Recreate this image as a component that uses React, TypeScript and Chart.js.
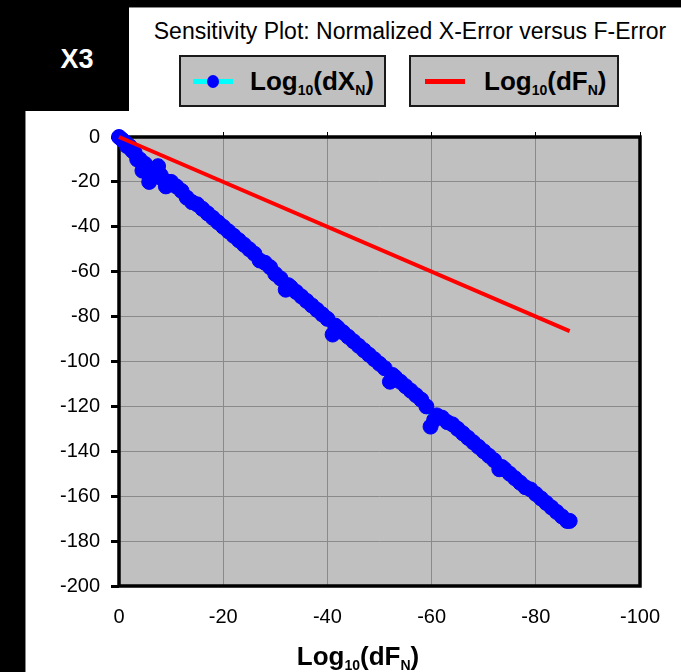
import React, { useEffect, useRef } from "react";
import { Chart, registerables } from "chart.js";

Chart.register(...registerables);

// ---- Data ----
const xTickValues = [0, -20, -40, -60, -80, -100];
const xTickLabels = ["0", "-20", "-40", "-60", "-80", "-100"];
const yTickValues = [0, -20, -40, -60, -80, -100, -120, -140, -160, -180, -200];
const yTickLabels = ["0", "-20", "-40", "-60", "-80", "-100", "-120", "-140", "-160", "-180", "-200"];

// Log10(dF_N) values for the blue series
const logDF = [
  0, -0.5, -1, -1.5, -2, -2.5, -3, -3.5, -4, -4.5, -5, -5.5, -5.8, -6, -6.5, -7, -7.5, -8, -8.5, -9, -9.5, -10,
  -11, -12, -13, -14, -15, -16, -17, -18, -19, -20, -21, -22, -23, -24, -25,
  -26, -27, -28, -29, -30, -31, -32, -32.5, -33, -34, -35, -36, -37, -38, -39,
  -40, -41, -41.5, -42, -43, -44, -45, -46, -47, -48, -49, -50, -51, -52,
  -52.5, -53, -54, -55, -56, -57, -58, -59, -59.8, -60.5, -61, -62, -63, -64,
  -65, -66, -67, -68, -69, -70, -71, -72, -73, -73.5, -74, -75, -76, -77, -78,
  -79, -80, -81, -82, -83, -84, -85, -86, -86.5,
];
// Log10(dX_N) values for the blue series
const logDX = [
  0, -1, -2, -4, -4, -6, -7, -10, -10, -15, -12, -14, -20, -15, -17, -15, -13, -17, -19, -22, -20, -20,
  -22, -24, -27, -29, -30, -32, -34, -36, -38, -40, -42, -44, -46, -48, -50,
  -52, -55, -56, -58, -61, -63, -68, -66, -67, -69, -71, -73, -75, -77, -79,
  -81, -88, -84, -85, -87, -89, -91, -93, -95, -97, -99, -101, -103, -109,
  -106, -107, -109, -111, -113, -115, -117, -120, -129, -126, -124, -125, -127, -128,
  -130, -132, -134, -136, -138, -140, -142, -144, -148, -147, -148, -150, -152, -154, -156,
  -157, -159, -161, -163, -165, -167, -169, -171, -171,
];
// Log10(dF_N) reference line (red)
const refX = [0, -86.5];
const refY = [0, -86.5];

const FONT = '"Liberation Sans", Arial, sans-serif';

const plotBg = {
  id: "plotBg",
  beforeDraw(chart: any) {
    const { ctx, chartArea: a } = chart;
    ctx.save();
    ctx.fillStyle = "#C0C0C0";
    ctx.fillRect(a.left, a.top, a.right - a.left, a.bottom - a.top);
    ctx.restore();
  },
  beforeDatasetsDraw(chart: any) {
    const { ctx, chartArea: a } = chart;
    ctx.save();
    ctx.strokeStyle = "#000";
    ctx.lineWidth = 3.5;
    ctx.strokeRect(a.left, a.top, a.right - a.left, a.bottom - a.top);
    ctx.restore();
  },
};

function ChartCanvas() {
  const ref = useRef<HTMLCanvasElement | null>(null);
  useEffect(() => {
    if (!ref.current) return;
    const blue = logDF.map((x, i) => ({ x, y: logDX[i] }));
    const red = refX.map((x, i) => ({ x, y: refY[i] }));
    const chart = new Chart(ref.current, {
      type: "scatter",
      data: {
        datasets: [
          {
            label: "Log10(dFN)",
            data: red,
            showLine: true,
            borderColor: "#FF0000",
            borderWidth: 4,
            pointRadius: 0,
            clip: false,
            order: 0,
          } as any,
          {
            label: "Log10(dXN)",
            data: blue,
            showLine: true,
            borderColor: "#00FFFF",
            borderWidth: 2,
            pointRadius: 7.5,
            pointBackgroundColor: "#0000FF",
            pointBorderColor: "#0000FF",
            pointBorderWidth: 1,
            clip: false,
            order: 1,
          } as any,
        ],
      },
      options: {
        animation: false,
        responsive: false,
        maintainAspectRatio: false,
        layout: { padding: { top: 137, right: 41, left: 0, bottom: 0 } },
        plugins: { legend: { display: false }, tooltip: { enabled: false }, title: { display: false } },
        scales: {
          x: {
            type: "linear",
            position: "bottom",
            min: -100,
            max: 0,
            reverse: true,
            afterBuildTicks: (s: any) => {
              s.ticks = xTickValues.map((v) => ({ value: v }));
            },
            afterFit: (s: any) => {
              s.height = 86;
            },
            grid: { color: "#8A8A8A", lineWidth: 1, drawTicks: false },
            border: { display: false },
            ticks: {
              padding: 19,
              color: "#000",
              font: { family: FONT, size: 20 },
              maxRotation: 0,
              autoSkip: false,
              callback: (v: any) => {
                const i = xTickValues.indexOf(Number(v));
                return i >= 0 ? xTickLabels[i] : "";
              },
            },
          },
          x2: {
            type: "linear",
            position: "top",
            min: -100,
            max: 0,
            reverse: true,
            afterBuildTicks: (s: any) => {
              s.ticks = xTickValues.map((v) => ({ value: v }));
            },
            afterFit: (s: any) => {
              s.height = 0;
            },
            grid: { drawOnChartArea: false, drawTicks: true, tickLength: 5, tickColor: "#000", tickWidth: 1 },
            border: { display: false },
            ticks: { display: false },
          },
          y: {
            type: "linear",
            min: -200,
            max: 0,
            afterBuildTicks: (s: any) => {
              s.ticks = yTickValues.map((v) => ({ value: v }));
            },
            afterFit: (s: any) => {
              s.width = 119;
            },
            grid: { color: "#8A8A8A", lineWidth: 1, drawTicks: true, tickLength: 8, tickColor: "#000", tickWidth: 3 },
            border: { display: false },
            ticks: {
              padding: 11,
              color: "#000",
              font: { family: FONT, size: 20 },
              autoSkip: false,
              callback: (v: any) => {
                const i = yTickValues.indexOf(Number(v));
                return i >= 0 ? yTickLabels[i] : "";
              },
            },
          },
        },
      } as any,
      plugins: [plotBg],
    });
    return () => chart.destroy();
  }, []);
  return (
    <canvas
      ref={ref}
      width={681}
      height={672}
      style={{ position: "absolute", left: 0, top: 0, width: 681, height: 672 }}
    />
  );
}

export default function App() {
  const legendBox: React.CSSProperties = {
    position: "absolute",
    top: 55,
    height: 52,
    background: "#C0C0C0",
    border: "2px solid #1a1a1a",
    boxSizing: "border-box",
    display: "flex",
    alignItems: "center",
    fontFamily: FONT,
    fontWeight: "bold",
    fontSize: 26,
    color: "#000",
  };
  const sub: React.CSSProperties = { fontSize: 14, verticalAlign: "-5px", lineHeight: 0 };
  return (
    <div
      style={{
        position: "fixed",
        left: 0,
        top: 0,
        width: 681,
        height: 672,
        background: "#000",
        overflow: "hidden",
      }}
    >
      <div
        style={{
          position: "absolute",
          left: 25,
          top: 7,
          width: 656,
          height: 665,
          background: "#fff",
          borderLeft: "1px solid #888",
          borderTop: "1px solid #888",
          boxSizing: "border-box",
        }}
      />
      <div
        style={{
          position: "absolute",
          left: 25,
          top: 7,
          width: 104,
          height: 104,
          background: "#000",
          color: "#fff",
          fontFamily: FONT,
          fontWeight: "bold",
          fontSize: 27,
          display: "flex",
          alignItems: "center",
          justifyContent: "center",
        }}
      >
        X3
      </div>
      <div
        style={{
          position: "absolute",
          left: 140,
          width: 540,
          top: 18,
          textAlign: "center",
          fontFamily: FONT,
          fontSize: 23,
          color: "#000",
          whiteSpace: "nowrap",
        }}
      >
        Sensitivity Plot: Normalized X-Error versus F-Error
      </div>
      <div style={{ ...legendBox, left: 179, width: 207 }}>
        <div style={{ position: "relative", width: 40, height: 14, marginLeft: 12, marginRight: 17 }}>
          <div style={{ position: "absolute", left: 0, top: 5, width: 40, height: 5, background: "#00FFFF" }} />
          <div
            style={{
              position: "absolute",
              left: 14,
              top: 1,
              width: 12,
              height: 13,
              borderRadius: "50%",
              background: "#0000FF",
            }}
          />
        </div>
        <span>
          Log<span style={sub}>10</span>(dX<span style={sub}>N</span>)
        </span>
      </div>
      <div style={{ ...legendBox, left: 409, width: 210 }}>
        <div style={{ width: 40, height: 5, background: "#FF0000", marginLeft: 14, marginRight: 19 }} />
        <span>
          Log<span style={sub}>10</span>(dF<span style={sub}>N</span>)
        </span>
      </div>
      <ChartCanvas />
      <div
        style={{
          position: "absolute",
          left: 258,
          width: 200,
          top: 641,
          textAlign: "center",
          fontFamily: FONT,
          fontWeight: "bold",
          fontSize: 26,
          color: "#000",
          whiteSpace: "nowrap",
        }}
      >
        Log<span style={sub}>10</span>(dF<span style={sub}>N</span>)
      </div>
    </div>
  );
}
